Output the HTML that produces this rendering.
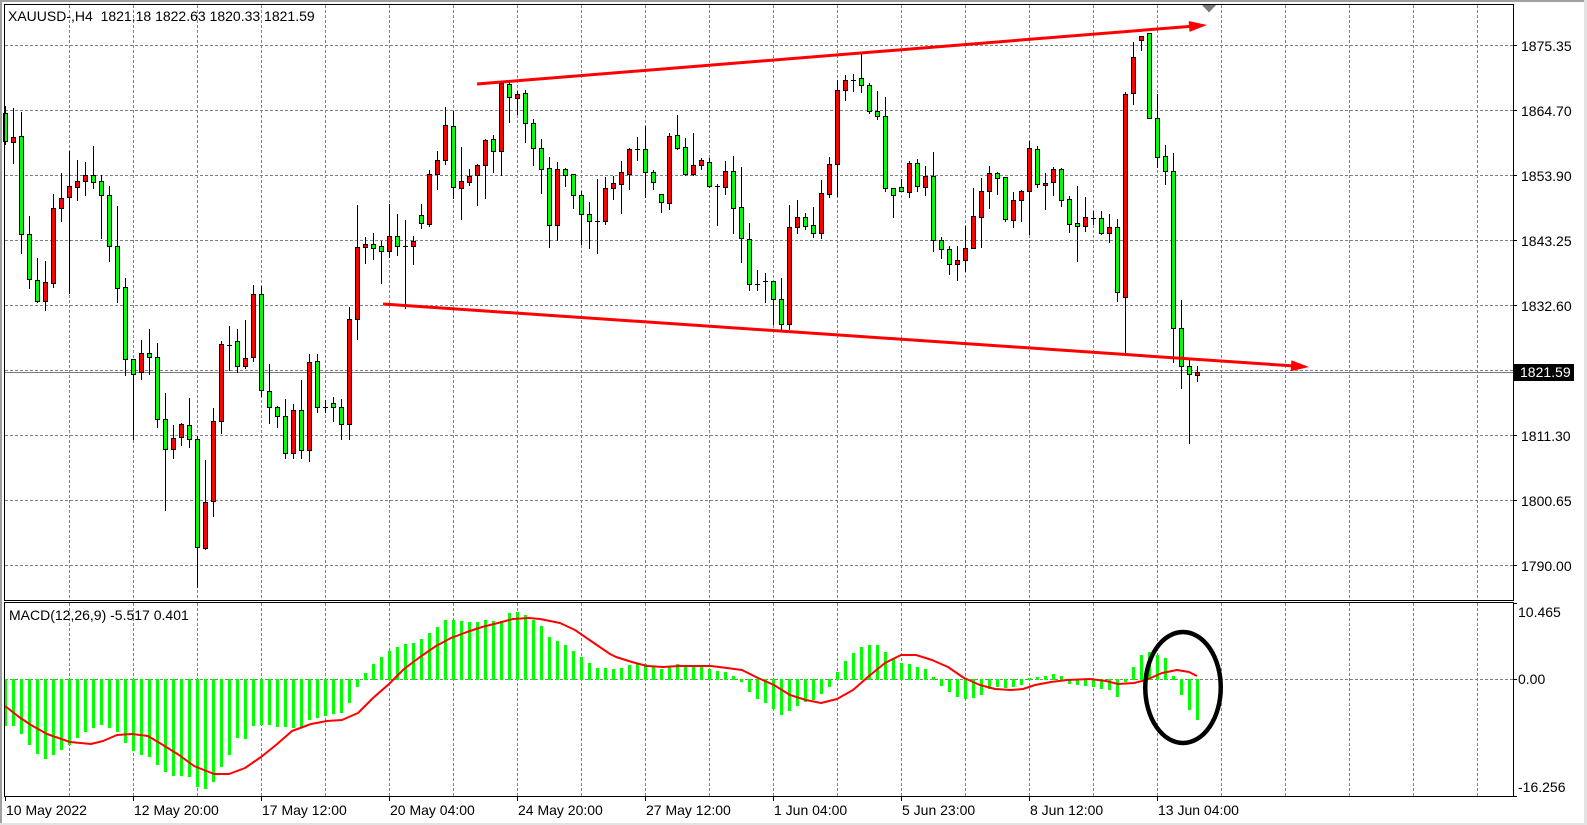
<!DOCTYPE html>
<html><head><meta charset="utf-8"><style>
html,body{margin:0;padding:0;background:#fff;overflow:hidden;width:1587px;height:825px}
svg{display:block}
text{font-family:"Liberation Sans",Arial,sans-serif;font-size:14px;fill:#000}
</style></head><body>
<svg width="1587" height="825" viewBox="0 0 1587 825" xmlns="http://www.w3.org/2000/svg">
<rect x="0" y="0" width="1587" height="825" fill="#fff"/>
<!-- outer frame -->
<g shape-rendering="crispEdges">
<rect x="0" y="0" width="1587" height="2" fill="#a0a0a0"/>
<rect x="0" y="0" width="2" height="825" fill="#a0a0a0"/>
<rect x="1584" y="0" width="3" height="825" fill="#e3e3e3"/>
<rect x="0" y="823" width="1587" height="2" fill="#e3e3e3"/>
</g>
<!-- grid -->
<g stroke="#808080" stroke-width="1" stroke-dasharray="3,2" shape-rendering="crispEdges" fill="none">
<path d="M5 45.5H1513M5 110.5H1513M5 175.5H1513M5 240.5H1513M5 305.5H1513M5 370.5H1513M5 435.5H1513M5 500.5H1513M5 565.5H1513M5 679.5H1513"/>
<path d="M69.5 5V600M133.5 5V600M197.5 5V600M261.5 5V600M325.5 5V600M389.5 5V600M453.5 5V600M517.5 5V600M581.5 5V600M645.5 5V600M709.5 5V600M773.5 5V600M837.5 5V600M901.5 5V600M965.5 5V600M1029.5 5V600M1093.5 5V600M1157.5 5V600M1221.5 5V600M1285.5 5V600M1349.5 5V600M1413.5 5V600M1477.5 5V600"/>
<path d="M69.5 603V796M133.5 603V796M197.5 603V796M261.5 603V796M325.5 603V796M389.5 603V796M453.5 603V796M517.5 603V796M581.5 603V796M645.5 603V796M709.5 603V796M773.5 603V796M837.5 603V796M901.5 603V796M965.5 603V796M1029.5 603V796M1093.5 603V796M1157.5 603V796M1221.5 603V796M1285.5 603V796M1349.5 603V796M1413.5 603V796M1477.5 603V796"/>
</g>
<!-- current price line -->
<path d="M5 372.5H1513" stroke="#7a7a7a" stroke-width="1" shape-rendering="crispEdges"/>
<!-- chart shift marker -->
<polygon points="1201.5,4.5 1216.5,4.5 1209,12.5" fill="#7a7a7a"/>
<!-- candles -->
<g shape-rendering="crispEdges">
<path stroke="#000" stroke-width="1" fill="none" d="M5.5 106V145M13.5 108V164M21.5 112V254M29.5 216V289M37.5 258V303M45.5 261V311M53.5 194V288M61.5 173V222M69.5 151V294M77.5 160V201M85.5 162V196M93.5 146V189M101.5 175V239M109.5 186V262M117.5 206V303M125.5 278V376M133.5 359V440M141.5 340V380M149.5 329V375M157.5 343V428M165.5 393V511M173.5 425V459M181.5 423V446M189.5 398V448M197.5 436V588M205.5 460V550M213.5 408V517M221.5 341V434M229.5 326V371M237.5 329V373M245.5 320V369M253.5 285V362M261.5 286V397M269.5 364V424M277.5 406V428M285.5 399V459M293.5 404V459M301.5 380V459M309.5 354V462M317.5 354V413M325.5 400V413M333.5 397V422M341.5 399V440M349.5 307V440M357.5 205V340M365.5 237V264M373.5 233V260M381.5 241V284M389.5 204V258M397.5 214V256M405.5 220V309M413.5 236V265M421.5 204V229M429.5 170V227M437.5 151V190M445.5 107V165M453.5 111V199M461.5 147V220M469.5 169V186M477.5 164V206M485.5 139V199M493.5 135V173M501.5 81V176M509.5 82V123M517.5 91V115M525.5 90V143M533.5 119V166M541.5 139V194M549.5 157V248M557.5 162V241M565.5 168V187M573.5 174V209M581.5 191V245M589.5 202V249M597.5 179V254M605.5 177V225M613.5 176V200M621.5 161V214M629.5 148V190M637.5 137V161M645.5 126V198M653.5 170V190M661.5 194V213M669.5 133V210M677.5 115V150M685.5 138V176M693.5 133V176M701.5 158V170M709.5 158V188M717.5 184V226M725.5 161V195M733.5 156V234M741.5 167V263M749.5 223V291M757.5 270V291M765.5 273V303M773.5 281V325M781.5 278V330M789.5 205V330M797.5 200V234M805.5 213V230M813.5 207V238M821.5 180V239M829.5 157V198M837.5 80V197M845.5 75V101M853.5 74V92M861.5 53V93M869.5 83V114M877.5 91V120M885.5 97V192M893.5 188V218M901.5 179V192M909.5 161V198M917.5 159V192M925.5 166V196M933.5 152V252M941.5 237V259M949.5 246V275M957.5 246V281M965.5 226V272M973.5 188V249M981.5 178V248M989.5 166V209M997.5 172V195M1005.5 177V222M1013.5 192V228M1021.5 190V222M1029.5 141V235M1037.5 146V188M1045.5 173V210M1053.5 167V196M1061.5 168V207M1069.5 196V233M1077.5 186V262M1085.5 197V232M1093.5 211V225M1101.5 211V235M1109.5 214V243M1117.5 219V302M1125.5 92V354M1133.5 42V105M1141.5 36V51M1149.5 33V119M1157.5 94V168M1165.5 145V185M1173.5 153V363M1181.5 300V389M1189.5 359V444M1197.5 366V382"/>
<path stroke="#000" stroke-width="1" fill="#00ff00" d="M3.5 113.5h4v28h-4zM19.5 136.5h4v98h-4zM27.5 234.5h4v45h-4zM35.5 280.5h4v21h-4zM91.5 175.5h4v7h-4zM99.5 181.5h4v14h-4zM107.5 195.5h4v51h-4zM115.5 246.5h4v42h-4zM123.5 287.5h4v72h-4zM131.5 359.5h4v15h-4zM147.5 353.5h4v4h-4zM155.5 357.5h4v62h-4zM163.5 419.5h4v30h-4zM187.5 425.5h4v14h-4zM195.5 439.5h4v108h-4zM235.5 341.5h4v25h-4zM259.5 294.5h4v96h-4zM267.5 391.5h4v16h-4zM275.5 407.5h4v9h-4zM283.5 416.5h4v37h-4zM299.5 410.5h4v40h-4zM315.5 361.5h4v46h-4zM331.5 403.5h4v4h-4zM339.5 407.5h4v17h-4zM371.5 244.5h4v4h-4zM379.5 246.5h4v5h-4zM395.5 236.5h4v10h-4zM419.5 215.5h4v8h-4zM451.5 126.5h4v61h-4zM491.5 139.5h4v12h-4zM507.5 84.5h4v13h-4zM523.5 93.5h4v30h-4zM531.5 123.5h4v25h-4zM539.5 148.5h4v21h-4zM547.5 168.5h4v57h-4zM563.5 169.5h4v6h-4zM571.5 174.5h4v21h-4zM579.5 195.5h4v19h-4zM587.5 214.5h4v7h-4zM643.5 149.5h4v23h-4zM651.5 172.5h4v10h-4zM659.5 194.5h4v8h-4zM675.5 135.5h4v13h-4zM683.5 147.5h4v27h-4zM707.5 162.5h4v24h-4zM731.5 171.5h4v37h-4zM739.5 207.5h4v31h-4zM747.5 239.5h4v45h-4zM771.5 281.5h4v18h-4zM779.5 299.5h4v25h-4zM803.5 217.5h4v9h-4zM811.5 225.5h4v8h-4zM859.5 78.5h4v7h-4zM867.5 85.5h4v26h-4zM875.5 111.5h4v5h-4zM883.5 116.5h4v72h-4zM891.5 188.5h4v7h-4zM899.5 187.5h4v4h-4zM915.5 163.5h4v23h-4zM931.5 176.5h4v64h-4zM939.5 240.5h4v9h-4zM947.5 249.5h4v15h-4zM995.5 173.5h4v5h-4zM1003.5 177.5h4v42h-4zM1035.5 149.5h4v35h-4zM1059.5 169.5h4v31h-4zM1067.5 199.5h4v25h-4zM1075.5 223.5h4v3h-4zM1099.5 218.5h4v15h-4zM1115.5 227.5h4v65h-4zM1147.5 33.5h4v85h-4zM1155.5 118.5h4v39h-4zM1163.5 156.5h4v15h-4zM1171.5 171.5h4v157h-4zM1179.5 328.5h4v38h-4zM1187.5 366.5h4v8h-4z"/>
<path stroke="#000" stroke-width="1" fill="#ff0000" d="M11.5 137.5h4v5h-4zM43.5 282.5h4v19h-4zM51.5 208.5h4v75h-4zM59.5 198.5h4v10h-4zM67.5 186.5h4v11h-4zM75.5 181.5h4v6h-4zM83.5 175.5h4v6h-4zM139.5 353.5h4v19h-4zM171.5 438.5h4v11h-4zM179.5 424.5h4v13h-4zM203.5 502.5h4v46h-4zM211.5 421.5h4v80h-4zM219.5 344.5h4v77h-4zM243.5 358.5h4v8h-4zM251.5 294.5h4v63h-4zM291.5 410.5h4v43h-4zM307.5 362.5h4v88h-4zM347.5 319.5h4v105h-4zM355.5 247.5h4v72h-4zM363.5 244.5h4v3h-4zM387.5 236.5h4v15h-4zM411.5 241.5h4v5h-4zM427.5 174.5h4v50h-4zM435.5 160.5h4v14h-4zM443.5 125.5h4v35h-4zM459.5 181.5h4v7h-4zM467.5 176.5h4v6h-4zM475.5 165.5h4v10h-4zM483.5 140.5h4v25h-4zM499.5 83.5h4v68h-4zM515.5 94.5h4v4h-4zM555.5 169.5h4v56h-4zM603.5 188.5h4v33h-4zM611.5 183.5h4v5h-4zM619.5 172.5h4v12h-4zM627.5 149.5h4v25h-4zM667.5 136.5h4v67h-4zM691.5 165.5h4v9h-4zM699.5 160.5h4v5h-4zM723.5 171.5h4v16h-4zM787.5 227.5h4v97h-4zM795.5 217.5h4v10h-4zM819.5 193.5h4v40h-4zM827.5 164.5h4v30h-4zM835.5 90.5h4v74h-4zM843.5 80.5h4v10h-4zM907.5 163.5h4v29h-4zM923.5 176.5h4v11h-4zM955.5 260.5h4v4h-4zM963.5 248.5h4v12h-4zM971.5 216.5h4v32h-4zM979.5 191.5h4v26h-4zM987.5 173.5h4v18h-4zM1011.5 200.5h4v20h-4zM1019.5 191.5h4v9h-4zM1027.5 148.5h4v43h-4zM1043.5 183.5h4v2h-4zM1051.5 169.5h4v13h-4zM1083.5 217.5h4v9h-4zM1107.5 227.5h4v6h-4zM1123.5 94.5h4v203h-4zM1131.5 57.5h4v36h-4zM1139.5 36.5h4v4h-4zM1195.5 372.5h4v3h-4z"/>
<path stroke="#000" stroke-width="1" fill="none" d="M227 345.5h5M323 407.5h5M403 246.5h5M595 221.5h5M635 149.5h5M715 186.5h5M755 284.5h5M763 281.5h5M851 80.5h5M1091 218.5h5"/>
</g>
<!-- trend lines -->
<g fill="#ff0000" stroke="none">
<line x1="477" y1="84" x2="1192" y2="26.2" stroke="#ff0000" stroke-width="3"/>
<polygon points="1207,25 1189.5,31.9 1188.7,21"/>
<line x1="383" y1="304" x2="1293" y2="365.9" stroke="#ff0000" stroke-width="3"/>
<polygon points="1309,367 1290.7,371.3 1291.4,360.3"/>
</g>
<!-- MACD histogram -->
<path shape-rendering="crispEdges" fill="#00ff00" d="M4 679h3v47h-3zM12 679h3v47h-3zM20 679h3v55h-3zM28 679h3v66h-3zM36 679h3v75h-3zM44 679h3v80h-3zM52 679h3v76h-3zM60 679h3v71h-3zM68 679h3v66h-3zM76 679h3v59h-3zM84 679h3v53h-3zM92 679h3v49h-3zM100 679h3v46h-3zM108 679h3v49h-3zM116 679h3v53h-3zM124 679h3v64h-3zM132 679h3v72h-3zM140 679h3v76h-3zM148 679h3v78h-3zM156 679h3v86h-3zM164 679h3v93h-3zM172 679h3v97h-3zM180 679h3v97h-3zM188 679h3v98h-3zM196 679h3v108h-3zM204 679h3v110h-3zM212 679h3v103h-3zM220 679h3v88h-3zM228 679h3v76h-3zM236 679h3v59h-3zM244 679h3v60h-3zM252 679h3v47h-3zM260 679h3v46h-3zM268 679h3v46h-3zM276 679h3v48h-3zM284 679h3v48h-3zM292 679h3v49h-3zM300 679h3v49h-3zM308 679h3v41h-3zM316 679h3v39h-3zM324 679h3v37h-3zM332 679h3v35h-3zM340 679h3v34h-3zM348 679h3v24h-3zM356 679h3v8h-3zM364 673h3v7h-3zM372 664h3v16h-3zM380 657h3v23h-3zM388 651h3v29h-3zM396 647h3v33h-3zM404 644h3v36h-3zM412 643h3v37h-3zM420 639h3v41h-3zM428 633h3v47h-3zM436 627h3v53h-3zM444 620h3v60h-3zM452 620h3v60h-3zM460 621h3v59h-3zM468 622h3v58h-3zM476 622h3v58h-3zM484 620h3v60h-3zM492 621h3v59h-3zM500 621h3v59h-3zM508 613h3v67h-3zM516 612h3v68h-3zM524 615h3v65h-3zM532 620h3v60h-3zM540 626h3v54h-3zM548 637h3v43h-3zM556 641h3v39h-3zM564 645h3v35h-3zM572 651h3v29h-3zM580 657h3v23h-3zM588 663h3v17h-3zM596 668h3v12h-3zM604 668h3v12h-3zM612 669h3v11h-3zM620 668h3v12h-3zM628 665h3v15h-3zM636 664h3v16h-3zM644 664h3v16h-3zM652 666h3v14h-3zM660 669h3v11h-3zM668 666h3v14h-3zM676 664h3v16h-3zM684 666h3v14h-3zM692 666h3v14h-3zM700 666h3v14h-3zM708 669h3v11h-3zM716 671h3v9h-3zM724 672h3v8h-3zM732 676h3v4h-3zM740 679h3v3h-3zM748 679h3v13h-3zM756 679h3v20h-3zM764 679h3v24h-3zM772 679h3v30h-3zM780 679h3v36h-3zM788 679h3v32h-3zM796 679h3v27h-3zM804 679h3v23h-3zM812 679h3v21h-3zM820 679h3v15h-3zM828 679h3v8h-3zM836 672h3v8h-3zM844 661h3v19h-3zM852 653h3v27h-3zM860 647h3v33h-3zM868 645h3v35h-3zM876 645h3v35h-3zM884 652h3v28h-3zM892 659h3v21h-3zM900 663h3v17h-3zM908 664h3v16h-3zM916 667h3v13h-3zM924 669h3v11h-3zM932 677h3v3h-3zM940 679h3v7h-3zM948 679h3v13h-3zM956 679h3v18h-3zM964 679h3v20h-3zM972 679h3v19h-3zM980 679h3v16h-3zM988 679h3v10h-3zM996 679h3v8h-3zM1004 679h3v9h-3zM1012 679h3v8h-3zM1020 679h3v6h-3zM1028 678h3v2h-3zM1036 677h3v3h-3zM1044 676h3v4h-3zM1052 674h3v6h-3zM1060 676h3v4h-3zM1068 679h3v5h-3zM1076 679h3v6h-3zM1084 679h3v7h-3zM1092 679h3v8h-3zM1100 679h3v10h-3zM1108 679h3v11h-3zM1116 679h3v18h-3zM1124 679h3v3h-3zM1132 667h3v13h-3zM1140 655h3v25h-3zM1148 652h3v28h-3zM1156 655h3v25h-3zM1164 658h3v22h-3zM1172 676h3v4h-3zM1180 679h3v16h-3zM1188 679h3v31h-3zM1196 679h3v41h-3z"/>
<!-- MACD signal -->
<polyline fill="none" stroke="#ff0000" stroke-width="2" stroke-linejoin="round" points="5,706 19,717 31,725 47,734 70,742 91,744 103,741 117,735 132,734 148,736 163,745 179,755 194,766 214,774 229,774 245,768 261,757 276,745 292,731 311,724 327,721 342,720 358,713 373,698 389,684 404,669 420,657 436,646 451,638 467,632 482,627 498,623 513,619 529,618 540,619 560,623 575,630 591,641 610,654 616,657 632,662 647,666 663,667 679,666 711,666 727,668 742,670 758,678 774,685 790,695 806,700 821,703 837,699 853,690 869,676 885,663 901,655 916,655 932,660 948,667 964,678 980,685 995,689 1011,690 1023,689 1035,685 1051,682 1067,680 1090,679 1106,681 1118,684 1134,683 1146,680 1162,673 1177,670 1189,672 1197,676"/>
<!-- circle annotation -->
<ellipse cx="1183" cy="687.5" rx="37.75" ry="55.5" fill="none" stroke="#000" stroke-width="4.5"/>
<!-- panel borders -->
<g fill="none" stroke="#000" stroke-width="1" shape-rendering="crispEdges">
<rect x="4.5" y="4.5" width="1509" height="596"/>
<rect x="4.5" y="602.5" width="1509" height="194"/>
<path d="M1514 45.5h3M1514 110.5h3M1514 175.5h3M1514 240.5h3M1514 305.5h3M1514 435.5h3M1514 500.5h3M1514 565.5h3M1514 603.5h3M1514 679.5h3M1514 796.5h3"/>
<path d="M5.5 797v4M133.5 797v4M261.5 797v4M389.5 797v4M517.5 797v4M645.5 797v4M773.5 797v4M901.5 797v4M1029.5 797v4M1157.5 797v4"/>
</g>
<!-- current price label -->
<rect x="1513" y="364" width="61" height="17" fill="#000"/>
<text x="1520" y="377" style="fill:#fff">1821.59</text>
<!-- texts -->
<text x="8" y="21" xml:space="preserve">XAUUSD-,H4  1821.18 1822.63 1820.33 1821.59</text>
<text x="9" y="620">MACD(12,26,9) -5.517 0.401</text>
<text x="1521" y="51">1875.35</text>
<text x="1521" y="116">1864.70</text>
<text x="1521" y="181">1853.90</text>
<text x="1521" y="246">1843.25</text>
<text x="1521" y="311">1832.60</text>
<text x="1521" y="441">1811.30</text>
<text x="1521" y="506">1800.65</text>
<text x="1521" y="571">1790.00</text>
<text x="1518" y="617">10.465</text>
<text x="1518" y="684">0.00</text>
<text x="1518" y="792">-16.256</text>
<text x="6" y="815">10 May 2022</text>
<text x="134" y="815">12 May 20:00</text>
<text x="262" y="815">17 May 12:00</text>
<text x="390" y="815">20 May 04:00</text>
<text x="518" y="815">24 May 20:00</text>
<text x="646" y="815">27 May 12:00</text>
<text x="774" y="815">1 Jun 04:00</text>
<text x="902" y="815">5 Jun 23:00</text>
<text x="1030" y="815">8 Jun 12:00</text>
<text x="1158" y="815">13 Jun 04:00</text>
</svg>
</body></html>
